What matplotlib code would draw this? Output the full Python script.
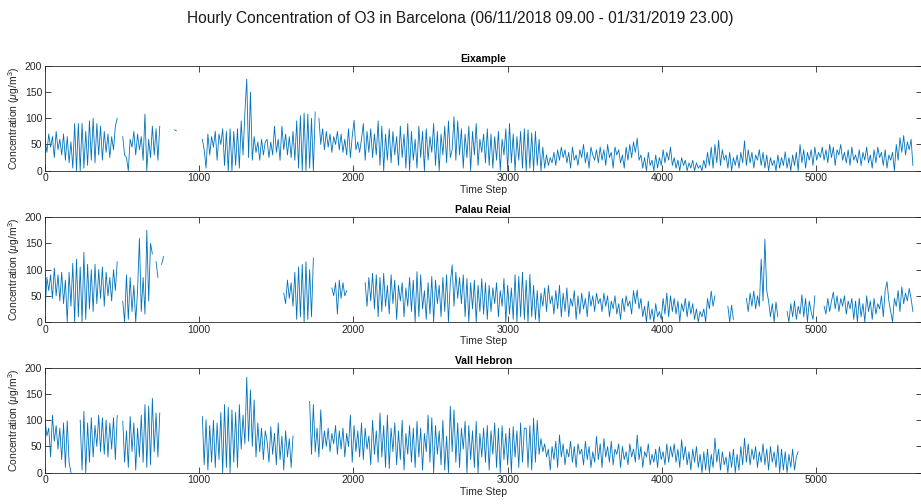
import numpy as np
import matplotlib.pyplot as plt

nan = np.nan

# hourly O3, sampled every 12 h (one row = 240 h), nan = missing data
eixample_rows = [
    [60, 35, 70, 45, 65, 25, 75, 40, 60, 30, 70, 20, 65, 15, 55, 5, 90, 0, 90, 0],
    [90, 5, 75, 10, 95, 20, 100, 15, 90, 30, 85, 20, 75, 35, 70, 25, 65, 40, 85, 100],
    [nan, nan, 65, 30, 25, 0, 60, 45, 75, 30, 70, 40, 65, 20, 108, 0, 60, 25, 85, 30],
    [80, 20, 85, nan, nan, nan, nan, nan, nan, nan, 78, 76, nan, nan, nan, nan, nan, nan, nan, nan],
    [nan, nan, nan, nan, nan, 60, 40, 5, 70, 30, 65, 45, 75, 20, 70, 50, 80, 10, 75, 0],
    [80, 0, 75, 10, 80, 5, 95, 30, 110, 175, 25, 150, 20, 65, 35, 55, 20, 60, 30, 55],
    [60, 25, 55, 30, 85, 35, 60, 20, 85, 40, 70, 30, 65, 25, 75, 20, 95, 5, 105, 0],
    [110, 0, 108, 5, 100, 0, 112, nan, 100, 50, 80, 40, 75, 45, 70, 35, 65, 50, 75, 40],
    [70, 35, 60, 30, 80, 25, 65, 96, 40, 55, 35, 60, 90, 20, 75, 35, 80, 25, 70, 30],
    [95, 10, 85, 0, 70, 20, 80, 15, 75, 30, 65, 10, 85, 25, 70, 5, 90, 0, 75, 20],
    [60, 5, 85, 25, 75, 0, 80, 20, 65, 35, 90, 10, 75, 0, 70, 30, 85, 15, 95, 25],
    [40, 103, 20, 95, 30, 80, 5, 70, 25, 85, 0, 75, 30, 90, 10, 60, 35, 70, 15, 80],
    [10, 70, 5, 65, 20, 75, 0, 60, 30, 80, 0, 90, 15, 70, 0, 65, 20, 75, 5, 80],
    [0, 78, 5, 72, 0, 75, 10, 60, 0, 45, 5, 30, 10, 25, 15, 35, 10, 40, 20, 45],
    [25, 40, 15, 35, 5, 45, 20, 30, 10, 40, 25, 50, 15, 35, 5, 45, 30, 20, 40, 15],
    [45, 20, 40, 10, 50, 25, 35, 5, 45, 30, 40, 15, 30, 5, 45, 20, 50, 25, 55, 35],
    [62, 20, 30, 5, 25, 0, 35, 10, 20, 0, 30, 5, 25, 10, 40, 15, 35, 20, 45, 10],
    [25, 5, 20, 0, 25, 10, 20, 0, 15, 5, 20, 0, 15, 5, 10, 0, 20, 5, 35, 10],
    [45, 5, 50, 15, 58, 10, 40, 20, 30, 5, 35, 0, 25, 10, 30, 5, 35, 15, 57, 10],
    [40, 15, 35, 5, 30, 20, 40, 10, 35, 5, 30, 0, 25, 10, 20, 0, 30, 5, 25, 10],
    [36, 5, 25, 0, 30, 10, 35, 0, 50, 15, 40, 5, 35, 20, 40, 10, 45, 20, 35, 25],
    [45, 20, 40, 15, 50, 25, 45, 10, 40, 30, 50, 20, 35, 15, 40, 10, 45, 20, 30, 15],
    [40, 10, 35, 20, 45, 15, 30, 5, 40, 15, 45, 25, 35, 10, 40, 5, 30, 20, 35, 0],
    [50, 20, 63, 35, 67, 30, 55, 40, 60, 10],
]

palau_rows = [
    [20, 85, 60, 90, 45, 103, 50, 90, 40, 95, 35, 80, 0, 95, 30, 112, 0, 120, 10, 105],
    [0, 133, 5, 110, 25, 100, 20, 110, 35, 100, 45, 105, 30, 95, 50, 85, 40, 100, 60, 115],
    [nan, nan, 40, 0, 90, 5, 85, 20, 70, 0, 60, 160, 20, 85, 15, 175, 40, 150, 130, nan],
    [115, 85, nan, 110, 125] + [nan] * 15,
    [nan] * 20,
    [nan] * 20,
    [nan] * 9 + [55, 35, 80, 45, 75, 30, 95, 5, 105, 10, 110],
    [0, 115, 5, 100, 10, 122, nan, nan, nan, nan, nan, nan, nan, nan, nan, 65, 50, 75, 15, 80],
    [45, 75, 50, 60, nan, nan, nan, nan, nan, nan, nan, nan, nan, 75, 30, 85, 40, 93, 25, 90],
    [10, 85, 20, 93, 30, 70, 15, 90, 35, 80, 5, 70, 40, 75, 10, 65, 30, 85, 20, 80],
    [0, 96, 10, 90, 25, 60, 5, 75, 15, 87, 0, 80, 35, 70, 10, 85, 20, 90, 0, 75],
    [109, 30, 95, 45, 85, 35, 90, 10, 83, 0, 75, 25, 80, 0, 70, 20, 83, 15, 75, 5],
    [70, 20, 65, 35, 75, 10, 60, 30, 83, 0, 70, 15, 65, 5, 90, 0, 87, 10, 95, 5],
    [80, 0, 91, 10, 70, 5, 60, 0, 55, 30, 65, 20, 70, 35, 50, 15, 60, 25, 70, 10],
    [55, 20, 65, 10, 45, 30, 60, 5, 50, 15, 55, 25, 45, 10, 58, 30, 50, 20, 55, 35],
    [45, 20, 55, 30, 50, 10, 40, 25, 50, 15, 35, 5, 45, 20, 50, 30, 40, 15, 60, 35],
    [61, 25, 45, 10, 30, 0, 40, 5, 25, 0, 35, 10, 20, 5, 45, 15, 55, 10, 50, 20],
    [45, 15, 40, 0, 35, 20, 45, 10, 40, 15, 35, 5, 25, 0, 20, 10, 25, 0, 45, 25],
    [59, 30, 50, nan, nan, nan, nan, nan, nan, 30, 0, 32, 5, nan, nan, nan, nan, nan, nan, 45],
    [20, 55, 30, 59, 25, 50, 30, 120, 40, 158, 60, 40, 10, 35, 0, 38, 10, nan, nan, nan],
    [nan, 20, 0, 35, 10, 40, 5, 30, 15, 52, 10, 45, 0, 40, 20, 5, 50, nan, nan, nan],
    [nan, 30, 15, 45, 20, 40, 57, 25, 50, 20, 45, 30, 50, 15, 40, 25, 45, 5, 40, 0],
    [45, 10, 35, 0, 50, 20, 40, 5, 45, 15, 35, 25, 50, 10, 60, 77, 40, 20, 0, 45],
    [30, 60, 20, 67, 35, 55, 40, 64, 45, 20],
]

vall_rows = [
    [100, 70, 85, 30, 110, 60, 90, 45, 85, 25, 95, 10, 99, 20, 0, nan, nan, nan, nan, 100],
    [5, 117, 0, 95, 20, 105, 30, 90, 50, 110, 40, 105, 35, 100, 30, 95, 45, 105, 25, 109],
    [nan, nan, 98, 20, 80, 10, 107, 40, 95, 5, 85, 30, 110, 20, 130, 10, 127, 15, 142, 40],
    [114, 30, 114] + [nan] * 17,
    [nan, nan, nan, nan, nan, 107, 15, 101, 5, 90, 20, 100, 10, 95, 25, 115, 0, 130, 10, 125],
    [0, 120, 20, 115, 10, 130, 45, 110, 55, 182, 60, 158, 50, 139, 30, 95, 40, 85, 25, 80],
    [60, 20, 88, 35, 75, 15, 95, 25, 70, 5, 80, 30, 65, 10, 70, nan, nan, nan, nan, nan],
    [nan, nan, nan, 136, 35, 130, 40, 85, 30, 120, 45, 80, 50, 85, 40, 75, 55, 90, 35, 80],
    [45, 85, 30, 75, 50, 110, 20, 90, 40, 80, 30, 95, 25, 85, 45, 70, 15, 100, 35, 80],
    [20, 114, 30, 90, 10, 110, 8, 85, 40, 95, 15, 80, 25, 100, 5, 75, 35, 90, 20, 85],
    [10, 98, 30, 85, 5, 75, 40, 110, 20, 105, 0, 90, 35, 80, 15, 100, 5, 70, 0, 127],
    [40, 120, 20, 95, 10, 85, 45, 98, 0, 90, 25, 80, 10, 98, 0, 75, 30, 85, 20, 90],
    [5, 80, 35, 95, 10, 85, 0, 90, 25, 75, 15, 85, 0, 88, 30, 80, 10, 95, 20, 85],
    [85, 10, 90, 5, 104, 20, 100, 35, 65, 40, 55, 30, 45, 5, 50, 25, 60, 10, 72, 30],
    [55, 15, 45, 30, 60, 20, 50, 10, 55, 35, 45, 15, 60, 25, 50, 10, 40, 20, 69, 25],
    [55, 10, 65, 30, 50, 20, 60, 15, 45, 35, 55, 10, 50, 25, 40, 15, 55, 30, 45, 20],
    [72, 25, 50, 10, 40, 30, 55, 15, 35, 20, 45, 10, 50, 25, 40, 15, 55, 20, 50, 30],
    [55, 20, 45, 10, 63, 25, 50, 15, 40, 5, 45, 20, 50, 10, 35, 0, 40, 5, 45, 0],
    [35, 10, 66, 20, 45, 5, 40, 15, 30, 0, 40, 10, 45, 0, 35, 5, 50, 15, 66, 20],
    [55, 15, 45, 25, 50, 10, 40, 20, 55, 15, 45, 5, 50, 20, 40, 10, 53, 0, 45, 5],
    [40, 0, 35, 10, 45, 5, 30, 40] + [nan] * 12,
]

stations = ["Eixample", "Palau Reial", "Vall Hebron"]
xticks = [0, 1000, 2000, 3000, 4000, 5000]
yticks = [0, 50, 100, 150, 200]


def to_series(rows):
    t, v = [], []
    for r, row in enumerate(rows):
        for i, val in enumerate(row):
            t.append(r * 240 + i * 12)
            v.append(val)
    return np.array(t), np.array(v, dtype=float)


plt.rcParams['font.family'] = ['Liberation Sans', 'DejaVu Sans']
plt.rcParams['mathtext.fontset'] = 'custom'
plt.rcParams['mathtext.rm'] = 'Liberation Sans'
plt.rcParams['mathtext.it'] = 'Liberation Sans:italic'

fig = plt.figure(figsize=(9.21, 5.04), dpi=100)
fig.suptitle("Hourly Concentration of O3 in Barcelona (06/11/2018 09.00 - 01/31/2019 23.00)",
             fontsize=11.2, y=0.978, color="#1a1a1a")

bottoms = [0.6613, 0.3611, 0.0621]
gray = "#262626"
for name, rows, b in zip(stations, [eixample_rows, palau_rows, vall_rows], bottoms):
    ax = fig.add_axes([0.0489, b, 0.9517, 0.2080])
    t, v = to_series(rows)
    ax.plot(t, v, color="#0072BD", lw=0.6)
    ax.set_xlim(0, 5684)
    ax.set_ylim(0, 200)
    ax.set_xticks(xticks)
    ax.set_yticks(yticks)
    ax.tick_params(direction="in", top=True, right=True, length=4, width=0.6,
                   labelsize=7.5, colors=gray, pad=2)
    for s in ax.spines.values():
        s.set_color(gray)
        s.set_linewidth(0.6)
    ax.set_title(name, fontsize=7.5, fontweight="bold", pad=3, color="black")
    ax.set_xlabel("Time Step", fontsize=7.5, labelpad=1, color=gray)
    ax.set_ylabel("Concentration ($\\mu$g/m$^3$)", fontsize=7.5, labelpad=2, color=gray)

fig.savefig("out.png", dpi=100)
